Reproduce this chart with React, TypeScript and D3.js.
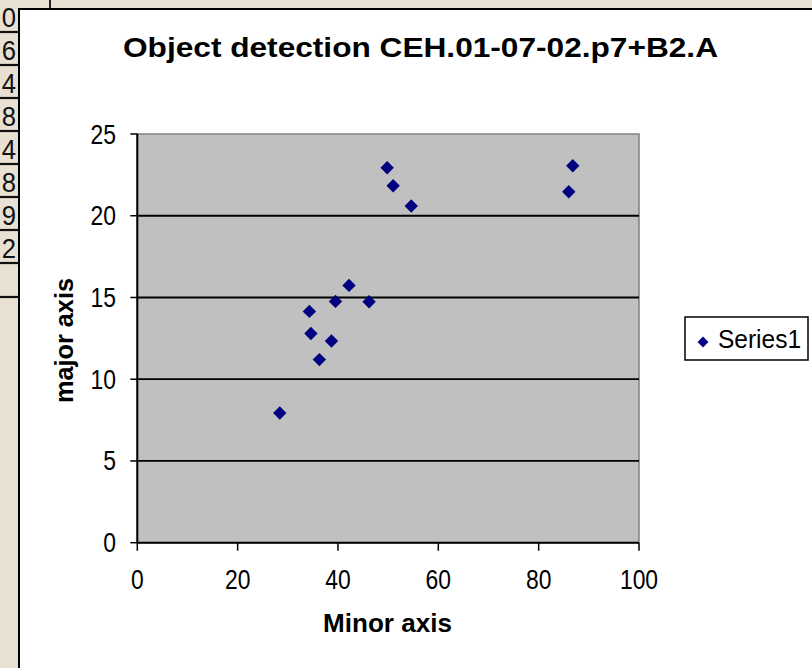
import React from "react";
import * as d3 from "d3";

const minorAxis = [28.4, 34.3, 34.6, 36.3, 38.7, 39.5, 42.2, 46.2, 49.8, 51.0, 54.6, 86.0, 86.8];
const majorAxis = [7.93, 14.15, 12.8, 11.2, 12.34, 14.76, 15.74, 14.74, 22.94, 21.84, 20.6, 21.47, 23.06];
const xTicks = [0, 20, 40, 60, 80, 100];
const yTicks = [0, 5, 10, 15, 20, 25];
const cellDigits = ["0", "6", "4", "8", "4", "8", "9", "2"];
const seriesName = "Series1";
const titleText = "Object detection CEH.01-07-02.p7+B2.A";
const xTitle = "Minor axis";
const yTitle = "major axis";

const W = 812;
const H = 668;
const FONT = "'Liberation Sans', Arial, Helvetica, sans-serif";

export default function App() {
  const x = d3.scaleLinear().domain([0, 100]).range([137.3, 639]);
  const y = d3.scaleLinear().domain([0, 25]).range([542.7, 134]);
  const diamond = d3.symbol().type(d3.symbolDiamond2).size(115)();
  const legendDiamond = d3.symbol().type(d3.symbolDiamond2).size(75)();
  const rowH = 33;

  return (
    <svg
      width={W}
      height={H}
      style={{ position: "absolute", left: 0, top: 0 }}
      fontFamily={FONT}
    >
      {/* spreadsheet background */}
      <rect x={0} y={0} width={W} height={H} fill="#e7e0d3" />
      <line x1={50} y1={0} x2={50} y2={8} stroke="#222" strokeWidth={2} />
      {cellDigits.map((d, i) => (
        <g key={i}>
          <text
            transform={`translate(16,${i * rowH + 27}) scale(0.95,1.05)`}
            textAnchor="end"
            fontSize={27}
            fill="#111"
          >
            {d}
          </text>
          <line
            x1={0}
            x2={18}
            y1={(i + 1) * rowH - 1}
            y2={(i + 1) * rowH - 1}
            stroke="#111"
            strokeWidth={2.2}
          />
        </g>
      ))}
      <line x1={0} x2={18} y1={9 * rowH} y2={9 * rowH} stroke="#111" strokeWidth={2.2} />

      {/* chart area */}
      <rect x={19} y={9} width={W} height={H} fill="#ffffff" stroke="#000" strokeWidth={2} />

      {/* title */}
      <text
        x={123}
        y={57}
        fontSize={27}
        fontWeight="bold"
        textLength={595}
        lengthAdjust="spacingAndGlyphs"
        fill="#000"
      >
        {titleText}
      </text>

      {/* plot area */}
      <rect
        x={x(0)}
        y={y(25)}
        width={x(100) - x(0)}
        height={y(0) - y(25)}
        fill="#c0c0c0"
        stroke="#808080"
        strokeWidth={1.5}
      />
      {yTicks
        .filter((t) => t > 0 && t < 25)
        .map((t) => (
          <line
            key={t}
            x1={x(0)}
            x2={x(100)}
            y1={y(t)}
            y2={y(t)}
            stroke="#000"
            strokeWidth={1.8}
          />
        ))}

      {/* axes */}
      <line x1={x(0)} x2={x(0)} y1={y(25)} y2={y(0)} stroke="#000" strokeWidth={2} />
      <line x1={x(0)} x2={x(100)} y1={y(0)} y2={y(0)} stroke="#000" strokeWidth={2} />
      {yTicks.map((t) => (
        <g key={t}>
          <line x1={x(0) - 7} x2={x(0)} y1={y(t)} y2={y(t)} stroke="#000" strokeWidth={1.5} />
          <text
            transform={`translate(116,${y(t) + 9.5}) scale(0.88,1.05)`}
            textAnchor="end"
            fontSize={26}
            fill="#000"
          >
            {t}
          </text>
        </g>
      ))}
      {xTicks.map((t) => (
        <g key={t}>
          <line x1={x(t)} x2={x(t)} y1={y(0)} y2={y(0) + 8} stroke="#000" strokeWidth={1.5} />
          <text
            transform={`translate(${x(t)},589) scale(0.88,1.05)`}
            textAnchor="middle"
            fontSize={26}
            fill="#000"
          >
            {t}
          </text>
        </g>
      ))}

      {/* axis titles */}
      <text
        x={323}
        y={632}
        fontSize={25}
        fontWeight="bold"
        textLength={129}
        lengthAdjust="spacingAndGlyphs"
        fill="#000"
      >
        {xTitle}
      </text>
      <text
        transform={`translate(73,403) rotate(-90)`}
        fontSize={25}
        fontWeight="bold"
        textLength={125}
        lengthAdjust="spacingAndGlyphs"
        fill="#000"
      >
        {yTitle}
      </text>

      {/* points */}
      {minorAxis.map((m, i) => (
        <path
          key={i}
          d={diamond as string}
          transform={`translate(${x(m)},${y(majorAxis[i])})`}
          fill="#000080"
        />
      ))}

      {/* legend */}
      <rect x={685} y={317} width={123} height={43} fill="#fff" stroke="#000" strokeWidth={1.5} />
      <path d={legendDiamond as string} transform="translate(703,342)" fill="#000080" />
      <text
        x={718}
        y={348}
        fontSize={25}
        textLength={83}
        lengthAdjust="spacingAndGlyphs"
        fill="#000"
      >
        {seriesName}
      </text>
    </svg>
  );
}
